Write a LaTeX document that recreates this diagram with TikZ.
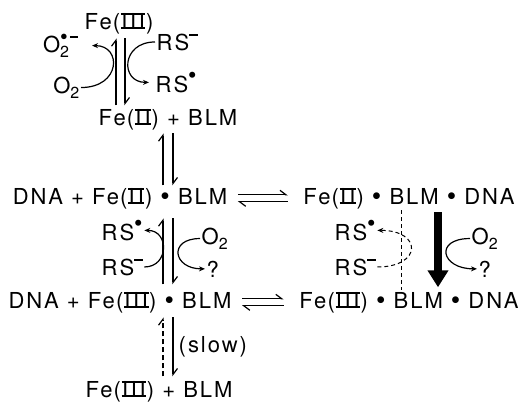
\documentclass[tikz,border=0pt]{standalone}
\usepackage{fontspec}
\setmainfont{TeX Gyre Heros}[LetterSpace=9,WordSpace=1.0]
\usetikzlibrary{arrows.meta}

% Roman numerals with top and bottom bars
\newcommand\Rn[1]{\leavevmode\setbox0\hbox{\kern0.02em#1\kern0.02em}\hbox{\rlap{\rule{\wd0}{0.085em}}\rlap{\rule[\dimexpr\ht0-0.085em\relax]{\wd0}{0.085em}}\box0}}
\newcommand\Rii{\Rn{I\kern0.14em I}}
\newcommand\Riii{\Rn{I\kern0.12em I\kern0.12em I}}
\newcommand\FeII{Fe\kern0.05em(\kern0.03em\Rii\kern0.03em)}
\newcommand\FeIII{Fe\kern0.05em(\kern0.03em\Riii\kern0.03em)}
\newcommand\bul{\raisebox{-0.08em}{\fontsize{27}{27}\selectfont •}}
\newcommand\rdot{\raisebox{0.38em}{\fontsize{24}{24}\selectfont •}}
\newcommand\chg{\raisebox{0.64em}{\rule{0.38em}{0.09em}}}
\newcommand\lowsub[1]{\raisebox{-0.25em}{\fontsize{16}{16}\selectfont #1}}
\newcommand\Otwo{O\lowsub{2}}
\newcommand\superox{O\rlap{\raisebox{0.36em}{\fontsize{22}{22}\selectfont •}}\lowsub{2}\kern0.04em\chg}

\begin{document}
\begin{tikzpicture}[x=1pt,y=-1pt,
  every node/.style={inner sep=1.5pt,font=\fontsize{22}{26}\selectfont},
  hp/.style={line width=1.2pt,-{Straight Barb[harpoon,length=6pt,width=9pt]}},
  ca/.style={line width=1.2pt,-{Stealth[length=6pt,width=5pt]}},
  dsh/.style={line width=1pt,dash pattern=on 4pt off 3pt},
  bigarrow/.style={line width=8pt,-{Triangle[length=17pt,width=20pt]}}]
\path[use as bounding box] (0,0) rectangle (519,402);

% column positions of the vertical arrows
\coordinate (k1) at (116,0);
\coordinate (k2) at (125,0);
\coordinate (k3) at (163,0);
\coordinate (k4) at (173,0);
\coordinate (k5) at (401,0);
\coordinate (k6) at (438,0);

% species
\node[anchor=base] (fe3t) at (119,29) {\FeIII};
\node[anchor=base east] (o2r) at (80,52) {\superox};
\node[anchor=base west] (rsm1) at (155,50) {RS\chg};
\node[anchor=base east] (o2a) at (81,93) {\Otwo};
\node[anchor=base west] (rsr1) at (154,92) {RS\rdot};
\node[anchor=base] (fe2b) at (168,125) {\FeII{} + BLM};
\node[anchor=base] (dfe2) at (120,204) {DNA + \FeII{} \bul{} BLM};
\node[anchor=base] (fe2d) at (409,204) {\FeII{} \bul{} BLM \bul{} DNA};
\node[anchor=base west] (rsr2) at (100,240) {RS\rdot};
\node[anchor=base west] (o2b) at (200,244) {\Otwo};
\node[anchor=base west] (rsm2) at (100,275) {RS\chg};
\node[anchor=base west] (q1) at (205,277) {?};
\node[anchor=base] (dfe3) at (120,308) {DNA + \FeIII{} \bul{} BLM};
\node[anchor=base] (fe3d) at (409,308) {\FeIII{} \bul{} BLM \bul{} DNA};
\node[anchor=base west] (rsr3) at (333,240) {RS\rdot};
\node[anchor=base west] (rsm3) at (333,275) {RS\chg};
\node[anchor=base west] (o2c) at (470,244) {\Otwo};
\node[anchor=base west] (q2) at (477,277) {?};
\node[anchor=base west] (slow) at (177,352) {(slow)};
\node[anchor=base] (fe3b) at (159,397) {\FeIII{} + BLM};

% vertical equilibria
\draw[hp,shorten <=2pt,shorten >=3pt] (fe2b.north -| k1) -- (fe3t.south -| k1);
\draw[hp,shorten <=3pt,shorten >=2pt] (fe3t.south -| k2) -- (fe2b.north -| k2);
\draw[hp,shorten <=1pt,shorten >=2pt] (dfe2.north -| k3) -- (fe2b.south -| k3);
\draw[hp,shorten <=2pt,shorten >=1pt] (fe2b.south -| k4) -- (dfe2.north -| k4);
\draw[hp,shorten <=6pt,shorten >=8pt] (dfe3.north -| k3) -- (dfe2.south -| k3);
\draw[hp,shorten <=8pt,shorten >=6pt] (dfe2.south -| k4) -- (dfe3.north -| k4);
\draw[hp,line width=1.2pt,dash pattern=on 5pt off 3pt,shorten <=3pt,shorten >=3pt] (fe3b.north -| k3) -- (dfe3.south -| k3);
\draw[hp,shorten <=3pt,shorten >=3pt] (dfe3.south -| k4) -- (fe3b.north -| k4);

% horizontal equilibria
\draw[hp,shorten <=9pt,shorten >=14pt] ([yshift=3.5pt]dfe2.east) -- ([yshift=3.5pt]fe2d.west);
\draw[hp,shorten <=14pt,shorten >=9pt] ([yshift=-3.5pt]fe2d.west) -- ([yshift=-3.5pt]dfe2.east);
\draw[hp,shorten <=9pt,shorten >=14pt] ([yshift=3.5pt]dfe3.east) -- ([yshift=3.5pt]fe3d.west);
\draw[hp,shorten <=14pt,shorten >=9pt] ([yshift=-3.5pt]fe3d.west) -- ([yshift=-3.5pt]dfe3.east);

% redox side reactions, upper cycle
\draw[ca,shorten >=12pt] (o2a.east) .. controls +(40,0) and +(42,0) .. (o2r.east);
\draw[ca,shorten >=5pt] (rsm1.west) .. controls +(-34,0) and +(-34,0) .. (rsr1.west);

% redox side reactions, free complex
\draw[ca] (rsm2.east) .. controls +(25,0) and +(25,0) .. (rsr2.east);
\draw[ca] (o2b.west) .. controls +(-32,0) and +(-32,0) .. (q1.west);

% DNA-bound complex
\draw[dsh] (fe2d.south -| k5) -- (fe3d.north -| k5);
\draw[ca,dsh] (rsm3.east) .. controls +(45,0) and +(45,0) .. (rsr3.east);
\draw[bigarrow,shorten <=2pt,shorten >=3pt] (fe2d.south -| k6) -- (fe3d.north -| k6);
\draw[ca] (o2c.west) .. controls +(-36,0) and +(-36,0) .. (q2.west);
\end{tikzpicture}
\end{document}
